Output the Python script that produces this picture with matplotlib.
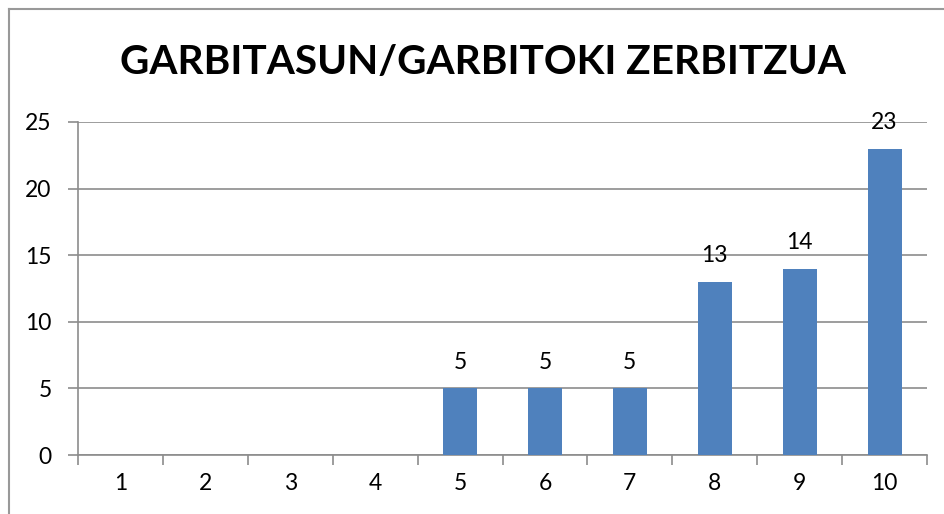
import matplotlib
matplotlib.use("Agg")
import matplotlib.pyplot as plt
from matplotlib.lines import Line2D

categories = ['1', '2', '3', '4', '5', '6', '7', '8', '9', '10']
values = [0, 0, 0, 0, 5, 5, 5, 13, 14, 23]
yticks = [0, 5, 10, 15, 20, 25]

plt.rcParams['font.family'] = ['Lato', 'DejaVu Sans']

fig = plt.figure(figsize=(9.44, 5.14), dpi=100)
ax = fig.add_axes([78/944, 1-455/514, (927-78)/944, (455-122)/514])

grid_c = '#8c8c8c'
x = list(range(len(categories)))
ax.bar(x, values, width=0.4, color='#4F81BD', zorder=3)
ax.set_xlim(-0.5, len(categories) - 0.5)
ax.set_ylim(0, 25)
ax.set_yticks(yticks)
ax.set_xticks(x)
ax.set_xticklabels(categories)
ax.set_xticks([i - 0.5 for i in range(len(categories) + 1)], minor=True)
ax.tick_params(axis='x', which='major', length=0, pad=13, labelsize=16.5)
ax.tick_params(axis='x', which='minor', length=7, color=grid_c, width=1.2)
ax.tick_params(axis='y', length=7, color=grid_c, width=1.2, pad=12, labelsize=16.5)
ax.yaxis.grid(True, color=grid_c, linewidth=1.2, zorder=0)
for s in ['top', 'right']:
    ax.spines[s].set_visible(False)
for s in ['left', 'bottom']:
    ax.spines[s].set_color(grid_c)
    ax.spines[s].set_linewidth(1.2)

for xi, v in zip(x, values):
    if v > 0:
        ax.annotate(str(v), (xi, v), xytext=(0, 19), textcoords='offset points',
                    ha='center', va='center', fontsize=16.5)

fig.text(483/944, 1-62/514, 'GARBITASUN/GARBITOKI ZERBITZUA', ha='center', va='center',
         fontsize=29.2, fontweight='bold')

# outer chart frame (only left and top edges visible)
fig.add_artist(Line2D([8.5/944, 8.5/944], [0, 1-9/514], transform=fig.transFigure,
                      color='#999999', linewidth=1.5))
fig.add_artist(Line2D([8.5/944, 1], [1-9/514, 1-9/514], transform=fig.transFigure,
                      color='#999999', linewidth=1.5))

fig.savefig('out.png', dpi=100)
